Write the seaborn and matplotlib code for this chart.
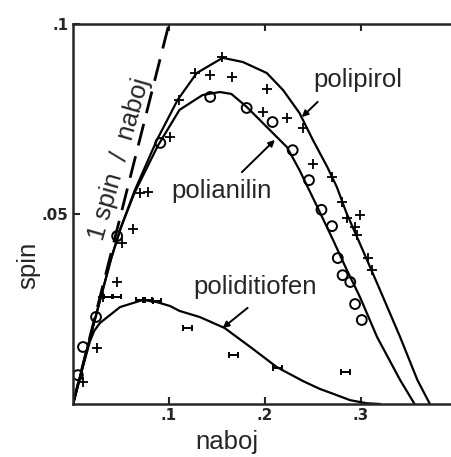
import matplotlib
matplotlib.use("Agg")
import matplotlib.pyplot as plt
import seaborn as sns
from matplotlib.path import Path

# fitted curves
pirol_x = [0, 0.015, 0.031, 0.04, 0.05, 0.064, 0.0875, 0.109, 0.129, 0.156, 0.177, 0.202,
           0.219, 0.236, 0.25, 0.265, 0.275, 0.285, 0.302, 0.32, 0.341, 0.359, 0.372]
pirol_y = [0, 0.0148, 0.030, 0.0385, 0.0465, 0.056, 0.0695, 0.080, 0.0871, 0.0911, 0.090, 0.0871,
           0.0826, 0.0766, 0.0695, 0.0624, 0.0571, 0.0503, 0.0405, 0.0300, 0.0176, 0.0063, 0]

anilin_x = [0, 0.015, 0.031, 0.04, 0.05, 0.064, 0.0885, 0.111, 0.135, 0.153, 0.165, 0.181,
            0.202, 0.223, 0.236, 0.254, 0.271, 0.285, 0.299, 0.317, 0.341, 0.356]
anilin_y = [0, 0.0148, 0.030, 0.0385, 0.0465, 0.0555, 0.068, 0.0774, 0.0813, 0.0821, 0.0816, 0.0782,
            0.0729, 0.0676, 0.0616, 0.0522, 0.0432, 0.0355, 0.0282, 0.0176, 0.0063, 0]

ditiofen_x = [0, 0.01, 0.0177, 0.022, 0.028, 0.049, 0.073, 0.0875, 0.101, 0.111, 0.132, 0.158,
              0.1875, 0.2125, 0.24, 0.257, 0.271, 0.289, 0.306, 0.32]
ditiofen_y = [0, 0.0095, 0.0165, 0.0192, 0.0213, 0.0255, 0.0274, 0.0268, 0.0258, 0.0245, 0.0229, 0.020,
              0.0145, 0.0097, 0.006, 0.004, 0.0027, 0.001, 0.0002, 0]

ref_x = [0, 0.1]
ref_y = [0, 0.1]

# measured points
pirol_pts_x = [0.0104, 0.025, 0.031, 0.046, 0.051, 0.0625, 0.070, 0.078, 0.101, 0.111, 0.127,
               0.143, 0.155, 0.166, 0.202, 0.198, 0.223, 0.240, 0.250, 0.270, 0.280, 0.286,
               0.299, 0.294, 0.296, 0.307, 0.312]
pirol_pts_y = [0.0058, 0.0147, 0.0282, 0.0321, 0.0424, 0.0461, 0.0555, 0.0558, 0.0703, 0.080, 0.0871,
               0.0866, 0.0913, 0.0861, 0.0829, 0.0768, 0.0753, 0.0726, 0.0632, 0.0597, 0.0532, 0.0489,
               0.0497, 0.0466, 0.0445, 0.0384, 0.0353]

anilin_pts_x = [0.005, 0.0104, 0.024, 0.046, 0.091, 0.143, 0.181, 0.208, 0.229, 0.246, 0.259,
                0.270, 0.276, 0.281, 0.289, 0.294, 0.301]
anilin_pts_y = [0.0076, 0.0150, 0.0229, 0.0442, 0.0687, 0.0808, 0.0779, 0.0742, 0.0668, 0.0589, 0.0511,
                0.0468, 0.0384, 0.0339, 0.0321, 0.0263, 0.0221]

ditiofen_pts_x = [0.0365, 0.0458, 0.070, 0.078, 0.0875, 0.119, 0.167, 0.2135, 0.284]
ditiofen_pts_y = [0.0282, 0.0282, 0.0274, 0.0274, 0.0271, 0.0200, 0.0129, 0.0095, 0.0084]

sns.set_style("ticks")
plt.rcParams["font.family"] = ["Liberation Sans", "DejaVu Sans"]

fig = plt.figure(figsize=(4.51, 4.57), dpi=100)
ax = fig.add_axes([73 / 451, 53 / 457, 378 / 451, 380 / 457])

lw = 1.6
sns.lineplot(x=pirol_x, y=pirol_y, color="k", lw=lw, sort=False, estimator=None, ax=ax)
sns.lineplot(x=anilin_x, y=anilin_y, color="k", lw=lw, sort=False, estimator=None, ax=ax)
sns.lineplot(x=ditiofen_x, y=ditiofen_y, color="k", lw=lw, sort=False, estimator=None, ax=ax)
ax.plot(ref_x, ref_y, color="k", lw=2.0, dashes=(8, 4))

sns.scatterplot(x=pirol_pts_x, y=pirol_pts_y, marker="+", s=50, color="k", linewidth=1.3, ax=ax)
sns.scatterplot(x=anilin_pts_x, y=anilin_pts_y, marker="o", s=50, facecolor="none",
                edgecolor="k", linewidth=1.4, ax=ax)
hbar = Path([(-1, 0), (1, 0), (-1, -0.6), (-1, 0.6), (1, -0.6), (1, 0.6)],
            [Path.MOVETO, Path.LINETO, Path.MOVETO, Path.LINETO, Path.MOVETO, Path.LINETO])
sns.scatterplot(x=ditiofen_pts_x, y=ditiofen_pts_y, marker=hbar, s=40, facecolor="none",
                edgecolor="k", linewidth=1.4, ax=ax)

ax.set_xlim(0, 0.394)
ax.set_ylim(0, 0.1)
ax.set_xticks([0.1, 0.2, 0.3])
ax.set_xticklabels([".1", ".2", ".3"])
ax.set_yticks([0.05, 0.1])
ax.set_yticklabels([".05", ".1"])
for lab in ax.get_xticklabels() + ax.get_yticklabels():
    lab.set_fontfamily("DejaVu Sans")
    lab.set_fontweight("bold")
    lab.set_fontsize(11)
ax.tick_params(direction="in", length=5, width=1.5, top=True, pad=3)
ax.spines["right"].set_visible(False)
for s in ["left", "bottom", "top"]:
    ax.spines[s].set_linewidth(1.8)

fs = 18.5
ax.set_xlabel("naboj", fontsize=fs)
ax.xaxis.set_label_coords(0.407, -0.068)
ax.set_ylabel("spin", fontsize=fs)
ax.yaxis.set_label_coords(-0.087, 0.366)

ax.text(0.25, 0.0834, "polipirol", fontsize=fs, ha="left", va="baseline")
ax.text(0.103, 0.0542, "polianilin", fontsize=fs, ha="left", va="baseline")
ax.text(0.125, 0.0289, "poliditiofen", fontsize=fs, ha="left", va="baseline")
ax.text(0.031, 0.0426, "1 spin  /  naboj", fontsize=fs, rotation=74,
        rotation_mode="anchor", ha="left", va="baseline")

arrow = dict(arrowstyle="-|>", color="k", lw=1.4, mutation_scale=9, shrinkA=0, shrinkB=0)
ax.annotate("", xy=(0.2385, 0.0755), xytext=(0.255, 0.0795), arrowprops=arrow)
ax.annotate("", xy=(0.2104, 0.0695), xytext=(0.176, 0.061), arrowprops=arrow)
ax.annotate("", xy=(0.156, 0.020), xytext=(0.182, 0.0253), arrowprops=arrow)

fig.savefig("out.png", dpi=100)
